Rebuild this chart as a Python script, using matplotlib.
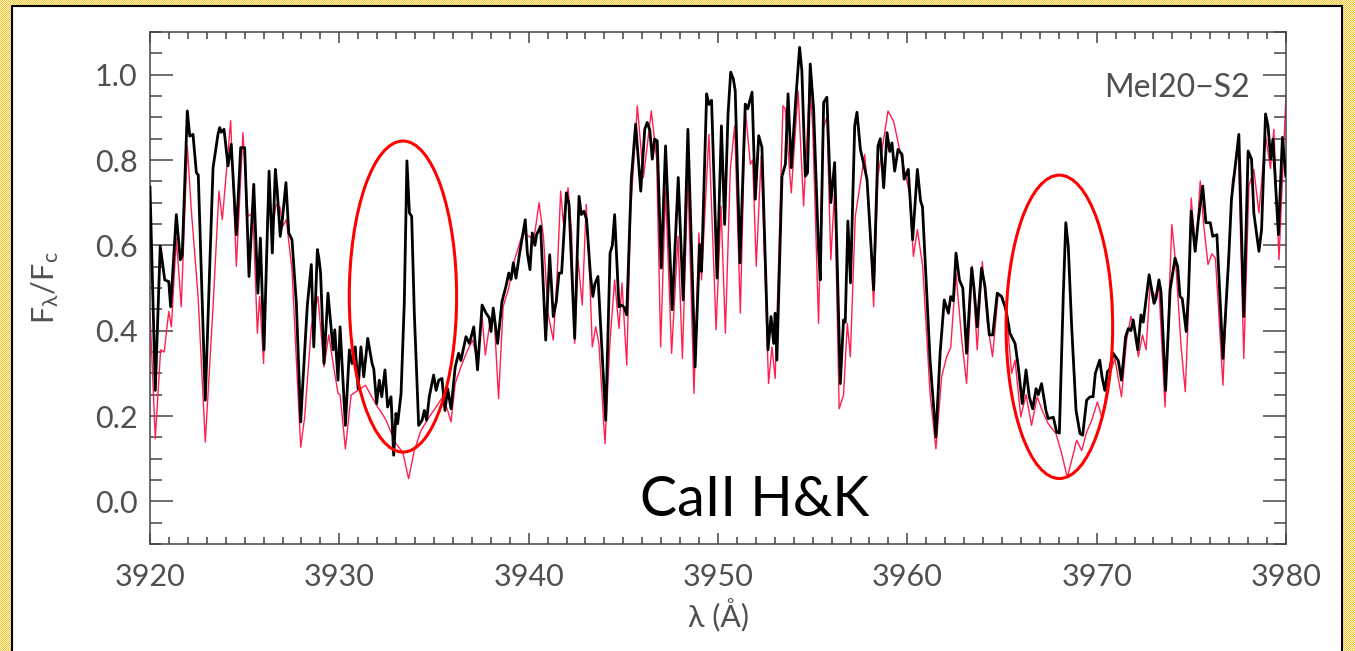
import numpy as np
import matplotlib
matplotlib.use('Agg')
import matplotlib.pyplot as plt
from matplotlib.patches import Ellipse, Rectangle
from matplotlib.ticker import MultipleLocator

plt.rcParams['font.family'] = ['Lato', 'DejaVu Sans']
plt.rcParams['mathtext.fontset'] = 'custom'
plt.rcParams['mathtext.rm'] = 'Lato'

# observed spectrum (black) and synthetic model (red)
wave_obs = [
    3920.00, 3920.28, 3920.54, 3920.78, 3920.99, 3921.09, 3921.39, 3921.60, 3921.70, 3921.97,
    3922.10, 3922.27, 3922.45, 3922.55, 3922.92, 3923.33, 3923.59, 3923.68, 3923.77, 3923.91,
    3924.12, 3924.29, 3924.56, 3924.79, 3925.00, 3925.23, 3925.48, 3925.70, 3925.83, 3926.02,
    3926.29, 3926.46, 3926.62, 3926.72, 3926.88, 3926.99, 3927.18, 3927.33, 3927.50, 3927.73,
    3927.96, 3928.08, 3928.31, 3928.52, 3928.65, 3928.84, 3928.92, 3929.01, 3929.19, 3929.40,
    3929.67, 3929.76, 3929.93, 3930.04, 3930.32, 3930.53, 3930.67, 3930.84, 3930.99, 3931.14,
    3931.29, 3931.50, 3931.73, 3931.82, 3931.97, 3932.11, 3932.24, 3932.41, 3932.55, 3932.73,
    3932.87, 3932.99, 3933.08, 3933.26, 3933.43, 3933.57, 3933.70, 3933.82, 3933.96, 3934.19,
    3934.37, 3934.49, 3934.61, 3934.75, 3934.98, 3935.11, 3935.25, 3935.42, 3935.58, 3935.72,
    3935.90, 3936.12, 3936.30, 3936.42, 3936.69, 3936.87, 3937.10, 3937.30, 3937.54, 3937.75,
    3937.92, 3938.01, 3938.13, 3938.36, 3938.59, 3938.80, 3938.95, 3939.07, 3939.19, 3939.33,
    3939.51, 3939.69, 3939.82, 3939.93, 3940.07, 3940.19, 3940.33, 3940.42, 3940.63, 3940.90,
    3941.11, 3941.30, 3941.46, 3941.60, 3941.74, 3941.99, 3942.13, 3942.43, 3942.66, 3942.78,
    3942.92, 3943.06, 3943.27, 3943.39, 3943.50, 3943.66, 3944.07, 3944.30, 3944.42, 3944.54,
    3944.77, 3944.89, 3945.04, 3945.18, 3945.42, 3945.65, 3945.92, 3946.13, 3946.26, 3946.40,
    3946.53, 3946.65, 3946.79, 3947.00, 3947.23, 3947.58, 3947.90, 3948.16, 3948.41, 3948.79,
    3949.03, 3949.13, 3949.40, 3949.52, 3949.66, 3949.95, 3950.18, 3950.35, 3950.53, 3950.67,
    3950.81, 3950.91, 3951.16, 3951.44, 3951.57, 3951.80, 3951.97, 3952.15, 3952.32, 3952.64,
    3952.80, 3952.94, 3953.02, 3953.11, 3953.38, 3953.56, 3953.70, 3953.87, 3954.12, 3954.31,
    3954.43, 3954.61, 3954.73, 3954.87, 3955.05, 3955.31, 3955.40, 3955.58, 3955.75, 3955.96,
    3956.16, 3956.46, 3956.63, 3956.72, 3956.86, 3957.00, 3957.22, 3957.34, 3957.52, 3957.70,
    3957.87, 3958.22, 3958.45, 3958.57, 3958.75, 3958.93, 3959.07, 3959.19, 3959.33, 3959.51,
    3959.72, 3959.83, 3960.05, 3960.28, 3960.53, 3960.70, 3960.80, 3961.20, 3961.51, 3961.73,
    3961.95, 3962.17, 3962.29, 3962.43, 3962.57, 3962.75, 3962.93, 3963.13, 3963.40, 3963.52,
    3963.69, 3963.92, 3964.10, 3964.33, 3964.51, 3964.75, 3964.98, 3965.21, 3965.42, 3965.69,
    3965.86, 3966.07, 3966.27, 3966.44, 3966.62, 3966.80, 3966.92, 3967.09, 3967.32, 3967.44,
    3967.71, 3967.89, 3968.03, 3968.24, 3968.37, 3968.50, 3968.68, 3968.91, 3969.12, 3969.26,
    3969.47, 3969.65, 3969.81, 3969.93, 3970.16, 3970.29, 3970.43, 3970.57, 3970.69, 3970.87,
    3971.14, 3971.31, 3971.53, 3971.67, 3971.81, 3971.93, 3972.17, 3972.34, 3972.46, 3972.77,
    3973.03, 3973.13, 3973.29, 3973.40, 3973.64, 3973.88, 3974.14, 3974.28, 3974.40, 3974.52,
    3974.73, 3974.85, 3974.99, 3975.20, 3975.37, 3975.60, 3975.77, 3976.00, 3976.13, 3976.35,
    3976.67, 3976.97, 3977.12, 3977.51, 3977.77, 3978.00, 3978.18, 3978.30, 3978.57, 3978.71,
    3978.92, 3979.05, 3979.19, 3979.31, 3979.60, 3979.81, 3979.99,
]
flux_obs = [
    0.736, 0.260, 0.598, 0.519, 0.515, 0.456, 0.672, 0.566, 0.575, 0.915,
    0.856, 0.860, 0.770, 0.765, 0.237, 0.782, 0.860, 0.876, 0.865, 0.872,
    0.786, 0.837, 0.625, 0.829, 0.829, 0.527, 0.743, 0.488, 0.617, 0.355,
    0.774, 0.582, 0.778, 0.727, 0.621, 0.660, 0.747, 0.629, 0.613, 0.464,
    0.186, 0.284, 0.460, 0.555, 0.362, 0.590, 0.570, 0.535, 0.323, 0.488,
    0.355, 0.402, 0.284, 0.409, 0.178, 0.355, 0.323, 0.362, 0.264, 0.362,
    0.292, 0.382, 0.323, 0.310, 0.229, 0.284, 0.245, 0.308, 0.221, 0.245,
    0.108, 0.206, 0.182, 0.253, 0.464, 0.798, 0.676, 0.668, 0.441, 0.178,
    0.190, 0.213, 0.190, 0.245, 0.296, 0.260, 0.284, 0.288, 0.213, 0.264,
    0.217, 0.315, 0.347, 0.330, 0.386, 0.370, 0.409, 0.308, 0.460, 0.441,
    0.430, 0.398, 0.453, 0.370, 0.468, 0.504, 0.535, 0.520, 0.559, 0.523,
    0.578, 0.625, 0.660, 0.582, 0.543, 0.629, 0.600, 0.625, 0.645, 0.378,
    0.578, 0.433, 0.468, 0.535, 0.535, 0.723, 0.696, 0.382, 0.715, 0.672,
    0.680, 0.660, 0.527, 0.480, 0.510, 0.527, 0.190, 0.582, 0.600, 0.672,
    0.456, 0.460, 0.455, 0.437, 0.755, 0.884, 0.727, 0.872, 0.888, 0.870,
    0.802, 0.849, 0.845, 0.547, 0.833, 0.449, 0.759, 0.472, 0.872, 0.315,
    0.602, 0.539, 0.955, 0.930, 0.940, 0.523, 0.880, 0.649, 0.908, 1.006,
    0.990, 0.962, 0.559, 0.931, 0.920, 0.959, 0.708, 0.857, 0.830, 0.355,
    0.433, 0.370, 0.441, 0.331, 0.762, 0.790, 0.955, 0.782, 0.950, 1.064,
    1.009, 0.762, 0.770, 1.025, 0.919, 0.590, 0.519, 0.935, 0.947, 0.700,
    0.794, 0.276, 0.425, 0.420, 0.657, 0.512, 0.880, 0.912, 0.825, 0.790,
    0.755, 0.496, 0.833, 0.850, 0.735, 0.864, 0.820, 0.840, 0.774, 0.825,
    0.813, 0.755, 0.778, 0.613, 0.778, 0.704, 0.690, 0.331, 0.151, 0.347,
    0.472, 0.441, 0.480, 0.470, 0.582, 0.519, 0.500, 0.347, 0.547, 0.500,
    0.409, 0.547, 0.504, 0.390, 0.390, 0.488, 0.480, 0.449, 0.394, 0.370,
    0.315, 0.229, 0.308, 0.245, 0.217, 0.264, 0.250, 0.276, 0.213, 0.194,
    0.197, 0.162, 0.160, 0.488, 0.653, 0.598, 0.409, 0.213, 0.159, 0.155,
    0.237, 0.245, 0.245, 0.300, 0.331, 0.290, 0.260, 0.304, 0.310, 0.347,
    0.330, 0.284, 0.386, 0.405, 0.400, 0.425, 0.355, 0.437, 0.420, 0.531,
    0.464, 0.475, 0.519, 0.490, 0.260, 0.496, 0.570, 0.550, 0.480, 0.475,
    0.398, 0.488, 0.680, 0.586, 0.660, 0.739, 0.653, 0.653, 0.621, 0.625,
    0.335, 0.566, 0.708, 0.860, 0.433, 0.821, 0.802, 0.676, 0.586, 0.637,
    0.908, 0.880, 0.802, 0.849, 0.625, 0.853, 0.762,
]

wave_mod = [
    3920.00, 3920.28, 3920.56, 3920.75, 3920.99, 3921.13, 3921.39, 3921.65, 3921.97, 3922.18,
    3922.54, 3922.92, 3923.33, 3923.64, 3923.82, 3924.26, 3924.56, 3924.91, 3925.18, 3925.44,
    3925.67, 3925.79, 3926.00, 3926.23, 3926.46, 3926.67, 3926.86, 3927.02, 3927.20, 3927.50,
    3927.73, 3927.96, 3928.17, 3928.52, 3928.87, 3929.19, 3929.44, 3929.72, 3929.93, 3930.04,
    3930.32, 3930.62, 3930.98, 3931.12, 3931.38, 3931.65, 3932.02, 3932.20, 3932.47, 3932.73,
    3932.99, 3933.35, 3933.66, 3933.96, 3934.31, 3934.75, 3935.11, 3935.46, 3935.72, 3935.90,
    3936.12, 3936.42, 3936.78, 3937.04, 3937.30, 3937.54, 3937.71, 3937.92, 3938.18, 3938.41,
    3938.65, 3938.95, 3939.15, 3939.42, 3939.69, 3940.02, 3940.28, 3940.55, 3940.78, 3941.02,
    3941.30, 3941.51, 3941.69, 3941.83, 3942.08, 3942.27, 3942.43, 3942.61, 3942.83, 3943.04,
    3943.22, 3943.36, 3943.54, 3943.71, 3944.03, 3944.30, 3944.54, 3944.77, 3944.93, 3945.18,
    3945.39, 3945.74, 3946.06, 3946.48, 3946.76, 3946.97, 3947.23, 3947.55, 3947.89, 3948.12,
    3948.41, 3948.73, 3948.99, 3949.13, 3949.52, 3949.90, 3950.16, 3950.39, 3950.65, 3950.88,
    3951.18, 3951.44, 3951.71, 3951.83, 3952.02, 3952.28, 3952.67, 3952.85, 3953.02, 3953.29,
    3953.43, 3953.55, 3953.72, 3953.87, 3954.23, 3954.52, 3954.84, 3955.00, 3955.31, 3955.54,
    3955.75, 3955.96, 3956.16, 3956.40, 3956.63, 3956.83, 3956.99, 3957.25, 3957.75, 3957.96,
    3958.22, 3958.45, 3958.98, 3959.28, 3959.55, 3959.88, 3960.11, 3960.32, 3960.53, 3960.81,
    3961.20, 3961.51, 3961.81, 3962.08, 3962.29, 3962.57, 3962.87, 3963.13, 3963.43, 3963.69,
    3963.96, 3964.22, 3964.50, 3964.80, 3965.07, 3965.25, 3965.51, 3965.69, 3965.99, 3966.27,
    3966.56, 3966.86, 3967.15, 3967.44, 3967.85, 3968.15, 3968.45, 3968.77, 3968.94, 3969.21,
    3969.47, 3969.74, 3970.04, 3970.29, 3970.61, 3970.96, 3971.31, 3971.58, 3971.81, 3971.98,
    3972.20, 3972.42, 3972.61, 3972.82, 3973.08, 3973.29, 3973.61, 3973.97, 3974.19, 3974.46,
    3974.68, 3974.85, 3974.99, 3975.24, 3975.47, 3975.65, 3975.88, 3976.09, 3976.27, 3976.44,
    3976.67, 3976.90, 3977.17, 3977.48, 3977.77, 3978.04, 3978.30, 3978.57, 3978.92, 3979.18,
    3979.36, 3979.63, 3979.99,
]
flux_mod = [
    0.441, 0.147, 0.355, 0.350, 0.445, 0.409, 0.617, 0.456, 0.833, 0.684,
    0.480, 0.139, 0.456, 0.727, 0.660, 0.892, 0.551, 0.864, 0.668, 0.676,
    0.394, 0.480, 0.323, 0.711, 0.645, 0.696, 0.690, 0.645, 0.660, 0.543,
    0.331, 0.127, 0.198, 0.409, 0.480, 0.315, 0.390, 0.310, 0.253, 0.250,
    0.123, 0.249, 0.260, 0.264, 0.272, 0.250, 0.221, 0.210, 0.190, 0.162,
    0.135, 0.115, 0.053, 0.119, 0.166, 0.198, 0.221, 0.245, 0.213, 0.186,
    0.276, 0.315, 0.355, 0.378, 0.330, 0.433, 0.343, 0.409, 0.430, 0.241,
    0.456, 0.500, 0.551, 0.590, 0.629, 0.621, 0.615, 0.700, 0.621, 0.441,
    0.378, 0.535, 0.727, 0.653, 0.735, 0.629, 0.370, 0.566, 0.460, 0.696,
    0.530, 0.362, 0.409, 0.370, 0.135, 0.378, 0.519, 0.405, 0.512, 0.319,
    0.684, 0.927, 0.759, 0.915, 0.802, 0.362, 0.731, 0.347, 0.621, 0.335,
    0.759, 0.253, 0.629, 0.519, 0.860, 0.402, 0.692, 0.394, 0.778, 0.880,
    0.441, 0.919, 0.790, 0.800, 0.551, 0.809, 0.276, 0.362, 0.288, 0.700,
    0.927, 0.920, 0.810, 0.723, 0.962, 0.692, 0.978, 0.880, 0.417, 0.872,
    0.900, 0.566, 0.731, 0.217, 0.249, 0.417, 0.339, 0.668, 0.813, 0.700,
    0.456, 0.762, 0.915, 0.890, 0.833, 0.770, 0.723, 0.574, 0.637, 0.551,
    0.253, 0.123, 0.292, 0.339, 0.360, 0.535, 0.380, 0.276, 0.551, 0.355,
    0.562, 0.420, 0.339, 0.488, 0.470, 0.433, 0.300, 0.331, 0.198, 0.250,
    0.178, 0.245, 0.210, 0.182, 0.159, 0.112, 0.056, 0.112, 0.143, 0.119,
    0.162, 0.190, 0.233, 0.194, 0.284, 0.335, 0.245, 0.378, 0.433, 0.410,
    0.339, 0.390, 0.355, 0.504, 0.480, 0.500, 0.221, 0.649, 0.550, 0.362,
    0.257, 0.450, 0.711, 0.586, 0.751, 0.650, 0.555, 0.580, 0.570, 0.450,
    0.272, 0.520, 0.751, 0.825, 0.335, 0.739, 0.778, 0.676, 0.857, 0.780,
    0.872, 0.566, 0.943,
]

# Ca II K and H line cores to highlight: (centre wavelength, centre flux, width, height)
line_marks = [(3933.36, 0.480, 5.67, 0.729), (3968.03, 0.409, 5.63, 0.711)]

W, H = 1355, 651
fig = plt.figure(figsize=(W / 100, H / 100), dpi=100)

# checkered slide border with a white panel on top
yy, xx = np.mgrid[0:H, 0:W]
checker = ((xx + yy) % 2 == 0)[..., None]
bg = np.where(checker, np.array([246, 196, 50]), np.array([255, 246, 205])) / 255.0
fig.figimage(bg, 0, 0, zorder=0)
panel = Rectangle((12 / W, -0.05), (1342 - 12) / W, 1.05 - 6 / H,
                  transform=fig.transFigure, facecolor='white',
                  edgecolor='black', lw=1.5, zorder=1)
fig.add_artist(panel)

ax = fig.add_axes([150 / W, 1 - 544 / H, (1286 - 150) / W, (544 - 32) / H])
ax.set_zorder(2)

grey = '#505050'
ax.plot(wave_mod, flux_mod, color='#ff2050', lw=1.0, zorder=2)
ax.plot(wave_obs, flux_obs, color='black', lw=2.0, zorder=3,
        solid_joinstyle='round')

for cx, cy, w, h in line_marks:
    ax.add_patch(Ellipse((cx, cy), w, h, fill=False, edgecolor='#ff0000', lw=2.2, zorder=4))

ax.set_xlim(3920, 3980)
ax.set_ylim(-0.1, 1.1)
ax.xaxis.set_major_locator(MultipleLocator(10))
ax.xaxis.set_minor_locator(MultipleLocator(1))
ax.yaxis.set_major_locator(MultipleLocator(0.2))
ax.yaxis.set_minor_locator(MultipleLocator(0.05))
ax.yaxis.set_major_formatter(lambda v, p: f'{v:.1f}')

for s in ax.spines.values():
    s.set_color('#444444')
    s.set_linewidth(1.1)

ax.tick_params(axis='both', which='both', direction='in', color='#444444',
               labelcolor=grey, labelsize=22, top=True, right=True, width=1.1)
ax.tick_params(axis='y', which='major', length=16.5, pad=9)
ax.tick_params(axis='y', which='minor', length=8.5)
ax.tick_params(axis='x', which='major', length=8, pad=14)
ax.tick_params(axis='x', which='minor', length=5)

ax.set_xlabel('λ (Å)', fontsize=22, color=grey)
ax.xaxis.set_label_coords(0.5, -0.105)
ax.set_ylabel(r'$\mathregular{F_{\lambda}/F_{c}}$', fontsize=22, color=grey)
ax.yaxis.set_label_coords(-0.078, 0.5)

ax.text(3978.1, 0.948, 'Mel20\u2212S2', ha='right', va='baseline',
        fontsize=23, color=grey)
ax.text(3951.95, -0.034, 'CaII H&K', ha='center', va='baseline',
        fontsize=40, color='black')

fig.savefig('out.png', dpi=100)
